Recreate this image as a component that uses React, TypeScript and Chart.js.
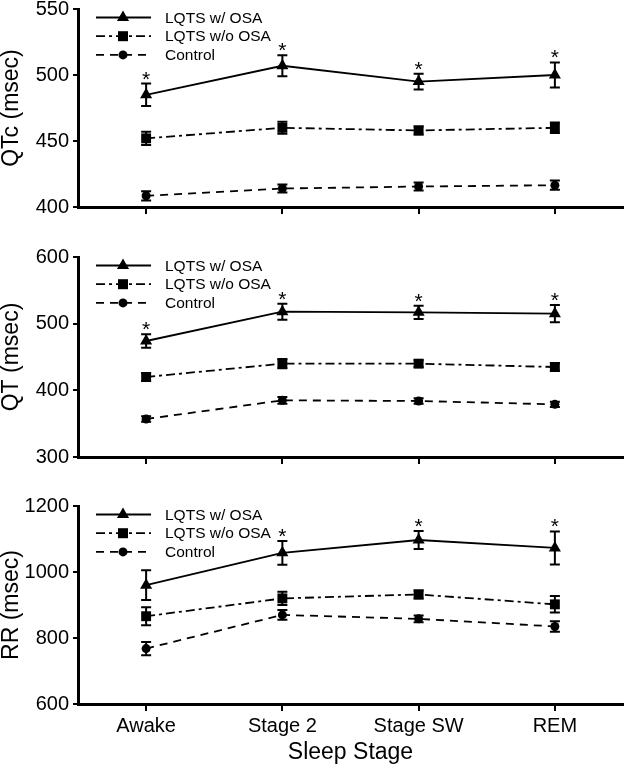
import React, { useEffect, useRef } from 'react';
import { Chart, registerables } from 'chart.js';

Chart.register(...registerables);

// ---------- DATA ----------
const stages = ['Awake', 'Stage 2', 'Stage SW', 'REM'];
const seriesNames = ['LQTS w/ OSA', 'LQTS w/o OSA', 'Control'];

const qtcWithOSA = [485, 507, 495, 500];
const qtcWithOSAErr = [8.5, 8, 6, 9.5];
const qtcWithoutOSA = [452, 460, 458, 460];
const qtcWithoutOSAErr = [5, 4.5, 3, 4];
const qtcControl = [408.5, 414, 415.5, 416.5];
const qtcControlErr = [3.5, 3, 3, 3.5];
const qtcStars = [true, true, true, true];

const qtWithOSA = [474, 518, 517, 515];
const qtWithOSAErr = [10, 12, 10, 13];
const qtWithoutOSA = [420, 440, 440, 435];
const qtWithoutOSAErr = [6, 7, 5, 6];
const qtControl = [357, 385, 384, 379];
const qtControlErr = [4, 5, 4, 4];
const qtStars = [true, true, true, true];

const rrWithOSA = [960, 1058, 1097, 1073];
const rrWithOSAErr = [45, 36, 27, 50];
const rrWithoutOSA = [866, 920, 932, 902];
const rrWithoutOSAErr = [27, 20, 12, 25];
const rrControl = [768, 870, 858, 835];
const rrControlErr = [20, 15, 10, 16];
const rrStars = [false, true, true, true];

const qtcTicks = [400, 450, 500, 550];
const qtTicks = [300, 400, 500, 600];
const rrTicks = [600, 800, 1000, 1200];

// ---------- STYLE ----------
const FONT = '"Liberation Sans", Arial, Helvetica, sans-serif';
const dashes = [[], [9, 4, 3, 4], [8, 6]];
const pointStyles = ['triangle', 'rect', 'circle'];
const pointRadii = [7, 7, 4.5];

type PanelDef = {
  yTitle: string;
  ticks: number[];
  means: number[][];
  errs: number[][];
  stars: boolean[];
  showX: boolean;
  canvasTop: number;
  canvasHeight: number;
  xAxisHeight: number;
};

const panels: PanelDef[] = [
  {
    yTitle: 'QTc (msec)',
    ticks: qtcTicks,
    means: [qtcWithOSA, qtcWithoutOSA, qtcControl],
    errs: [qtcWithOSAErr, qtcWithoutOSAErr, qtcControlErr],
    stars: qtcStars,
    showX: false,
    canvasTop: -21,
    canvasHeight: 248,
    xAxisHeight: 20,
  },
  {
    yTitle: 'QT (msec)',
    ticks: qtTicks,
    means: [qtWithOSA, qtWithoutOSA, qtControl],
    errs: [qtWithOSAErr, qtWithoutOSAErr, qtControlErr],
    stars: qtStars,
    showX: false,
    canvasTop: 227,
    canvasHeight: 250,
    xAxisHeight: 20,
  },
  {
    yTitle: 'RR (msec)',
    ticks: rrTicks,
    means: [rrWithOSA, rrWithoutOSA, rrControl],
    errs: [rrWithOSAErr, rrWithoutOSAErr, rrControlErr],
    stars: rrStars,
    showX: true,
    canvasTop: 476,
    canvasHeight: 290,
    xAxisHeight: 62,
  },
];

function drawMarker(ctx: CanvasRenderingContext2D, style: string, x: number, y: number) {
  ctx.beginPath();
  if (style === 'triangle') {
    const r = 7;
    ctx.moveTo(x, y - r);
    ctx.lineTo(x + r * 0.866, y + r * 0.5);
    ctx.lineTo(x - r * 0.866, y + r * 0.5);
    ctx.closePath();
  } else if (style === 'rect') {
    ctx.rect(x - 5, y - 5, 10, 10);
  } else {
    ctx.arc(x, y, 4.5, 0, Math.PI * 2);
  }
  ctx.fill();
}

function makePlugin(def: PanelDef) {
  return {
    id: 'panelExtras',
    afterDatasetsDraw(chart: any) {
      const ctx: CanvasRenderingContext2D = chart.ctx;
      const xs = chart.scales.x;
      const ys = chart.scales.y;
      ctx.save();
      ctx.strokeStyle = '#000';
      ctx.fillStyle = '#000';
      ctx.lineWidth = 2;
      ctx.setLineDash([]);
      // error bars
      def.means.forEach((series, si) => {
        series.forEach((v, i) => {
          const e = def.errs[si][i];
          const x = xs.getPixelForValue(i);
          const yt = ys.getPixelForValue(v + e);
          const yb = ys.getPixelForValue(v - e);
          ctx.beginPath();
          ctx.moveTo(x, yt);
          ctx.lineTo(x, yb);
          ctx.moveTo(x - 5, yt);
          ctx.lineTo(x + 5, yt);
          ctx.moveTo(x - 5, yb);
          ctx.lineTo(x + 5, yb);
          ctx.stroke();
        });
      });
      // significance stars
      ctx.font = `21px ${FONT}`;
      ctx.textAlign = 'center';
      ctx.textBaseline = 'alphabetic';
      def.stars.forEach((s, i) => {
        if (!s) return;
        const v = def.means[0][i] + def.errs[0][i];
        const x = xs.getPixelForValue(i);
        const y = ys.getPixelForValue(v);
        ctx.fillText('*', x, y + 2);
      });
      // legend
      const top = chart.chartArea.top;
      ctx.font = `15.5px ${FONT}`;
      ctx.textAlign = 'left';
      ctx.textBaseline = 'middle';
      seriesNames.forEach((name, si) => {
        const y = top + 8.5 + si * 18.7;
        ctx.lineWidth = 1.8;
        ctx.setLineDash(dashes[si]);
        ctx.beginPath();
        ctx.moveTo(96, y);
        ctx.lineTo(151, y);
        ctx.stroke();
        ctx.setLineDash([]);
        drawMarker(ctx, pointStyles[si], 123, y);
        ctx.fillText(name, 165, y + 1);
      });
      ctx.restore();
    },
  };
}

function Panel({ def }: { def: PanelDef }) {
  const ref = useRef<HTMLCanvasElement | null>(null);
  useEffect(() => {
    if (!ref.current) return;
    const chart = new Chart(ref.current, {
      type: 'line',
      data: {
        labels: stages,
        datasets: def.means.map((m, si) => ({
          label: seriesNames[si],
          data: m,
          borderColor: '#000',
          backgroundColor: '#000',
          borderWidth: 1.8,
          borderDash: dashes[si],
          pointStyle: pointStyles[si] as any,
          pointRadius: pointRadii[si],
          pointBackgroundColor: '#000',
          pointBorderColor: '#000',
          pointBorderWidth: 0,
          tension: 0,
          fill: false,
        })),
      },
      options: {
        responsive: false,
        animation: false,
        events: [],
        layout: { padding: { top: 30, right: 2, left: 0, bottom: 0 } },
        plugins: { legend: { display: false }, tooltip: { enabled: false }, title: { display: false } },
        scales: {
          x: {
            type: 'category',
            offset: true,
            grid: {
              display: true,
              drawOnChartArea: false,
              drawTicks: true,
              tickLength: 7,
              color: '#000',
              lineWidth: 2,
              offset: false,
            },
            border: { display: true, color: '#000', width: 3 },
            ticks: {
              display: def.showX,
              color: '#000',
              font: { family: FONT, size: 20 },
              padding: 3,
              maxRotation: 0,
            },
            title: {
              display: def.showX,
              text: 'Sleep Stage',
              color: '#000',
              font: { family: FONT, size: 23 },
              padding: { top: 0, bottom: 0 },
            },
            afterFit: (s: any) => {
              s.height = def.xAxisHeight;
            },
          },
          y: {
            min: def.ticks[0],
            max: def.ticks[def.ticks.length - 1],
            afterBuildTicks: (s: any) => {
              s.ticks = def.ticks.map((v) => ({ value: v }));
            },
            grid: {
              display: true,
              drawOnChartArea: false,
              drawTicks: true,
              tickLength: 5,
              color: '#000',
              lineWidth: 2,
            },
            border: { display: true, color: '#000', width: 3 },
            ticks: {
              color: '#000',
              font: { family: FONT, size: 20 },
              padding: 4,
              callback: (v: any) => String(v),
            },
            title: {
              display: true,
              text: def.yTitle,
              color: '#000',
              font: { family: FONT, size: 23, lineHeight: 1.05 },
              padding: { top: 0, bottom: 0 },
            },
            afterFit: (s: any) => {
              s.width = 78;
            },
          },
        },
      },
      plugins: [makePlugin(def)],
    } as any);
    return () => chart.destroy();
  }, [def]);
  return (
    <canvas
      ref={ref}
      width={630}
      height={def.canvasHeight}
      style={{ position: 'absolute', left: 0, top: def.canvasTop, width: 630, height: def.canvasHeight, display: 'block' }}
    />
  );
}

export default function App() {
  return (
    <div
      style={{
        position: 'fixed',
        left: 0,
        top: 0,
        width: 630,
        height: 766,
        overflow: 'hidden',
        background: '#fff',
      }}
    >
      {panels.map((p, i) => (
        <Panel key={i} def={p} />
      ))}
    </div>
  );
}
